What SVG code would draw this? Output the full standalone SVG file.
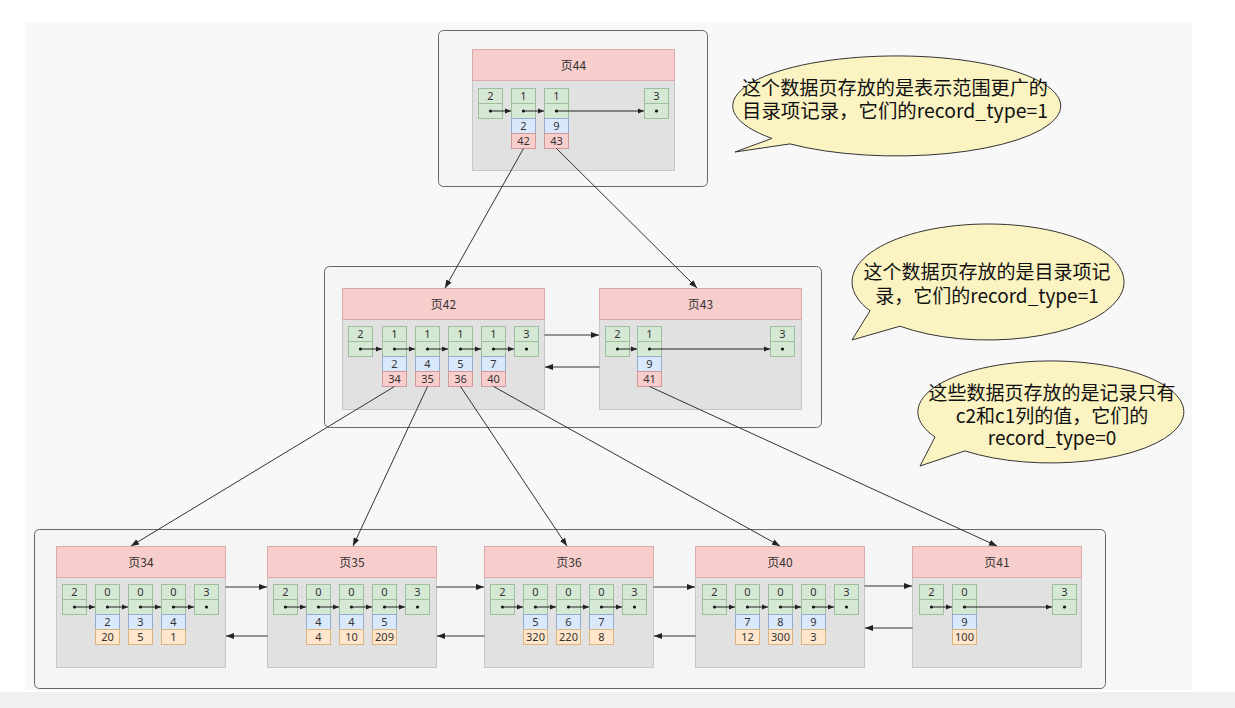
<svg xmlns="http://www.w3.org/2000/svg" width="1235" height="708" viewBox="0 0 1235 708">
<defs>
<style>
.bg{fill:#f8f8f8}
.cont{fill:#f5f5f5;stroke:#666;stroke-width:1}
.hdr{fill:#f8cecc;stroke:#dba9a7;stroke-width:1}
.body{fill:#e1e1e1;stroke:#c6c6c6;stroke-width:1}
.g{fill:#d5e8d4;stroke:#9fbf9c;stroke-width:1}
.b{fill:#dae8fc;stroke:#94acd0;stroke-width:1}
.p{fill:#f8cecc;stroke:#cf9a98;stroke-width:1}
.o{fill:#ffe6cc;stroke:#dbb47e;stroke-width:1}
.t{font-family:"Noto Sans","Noto Sans CJK SC",sans-serif;font-size:11px;fill:#333;text-anchor:middle}
.h{font-family:"Noto Sans CJK SC",sans-serif;font-size:12px;fill:#333;text-anchor:middle}
.dot{fill:#111}
.in{stroke:#222;stroke-width:1;fill:none;marker-end:url(#sa)}
.ln{stroke:#333;stroke-width:1;fill:none;marker-end:url(#la)}
.bub{fill:#fbf3c2;stroke:#333;stroke-width:1}
.bt{font-family:"Noto Sans CJK SC",sans-serif;fill:#111;text-anchor:middle}
</style>
<marker id="sa" markerUnits="userSpaceOnUse" markerWidth="6" markerHeight="6" refX="6" refY="3" orient="auto"><path d="M0,0.5 L6,3 L0,5.5 z" fill="#222"/></marker>
<marker id="la" markerUnits="userSpaceOnUse" markerWidth="8" markerHeight="8" refX="8" refY="4" orient="auto"><path d="M0,1 L8,4 L0,7 z" fill="#222"/></marker>
</defs>
<rect width="1235" height="708" fill="#ffffff"/>
<rect class="bg" x="25" y="22" width="1167" height="668"/>
<rect x="0" y="692" width="1235" height="16" fill="#f0f0f0"/>

<!-- containers -->
<rect class="cont" x="438.5" y="30.5" width="269" height="156" rx="5"/>
<rect class="cont" x="324.5" y="266.5" width="497" height="161" rx="5"/>
<rect class="cont" x="34.5" y="529.5" width="1071" height="159" rx="5"/>

<!-- Page 44 -->
<g id="page44">
<rect class="body" x="472.5" y="80.5" width="202" height="90"/>
<rect class="hdr" x="472.5" y="49.5" width="202" height="31"/>
<text class="h" x="573.5" y="69.5">页44</text>
<rect class="g" x="478.5" y="88.5" width="24" height="15"/><rect class="g" x="478.5" y="103.5" width="24" height="15"/><text class="t" x="490.5" y="99.5">2</text>
<rect class="g" x="511.5" y="88.5" width="24" height="15"/><rect class="g" x="511.5" y="103.5" width="24" height="15"/><text class="t" x="523.5" y="99.5">1</text>
<rect class="b" x="511.5" y="118.5" width="24" height="15"/><text class="t" x="523.5" y="129.5">2</text>
<rect class="p" x="511.5" y="133.5" width="24" height="15"/><text class="t" x="523.5" y="144.5">42</text>
<rect class="g" x="544.5" y="88.5" width="24" height="15"/><rect class="g" x="544.5" y="103.5" width="24" height="15"/><text class="t" x="556.5" y="99.5">1</text>
<rect class="b" x="544.5" y="118.5" width="24" height="15"/><text class="t" x="556.5" y="129.5">9</text>
<rect class="p" x="544.5" y="133.5" width="24" height="15"/><text class="t" x="556.5" y="144.5">43</text>
<rect class="g" x="644.5" y="88.5" width="24" height="15"/><rect class="g" x="644.5" y="103.5" width="24" height="15"/><text class="t" x="656.5" y="99.5">3</text>
<circle class="dot" cx="490.5" cy="111" r="1.6"/><circle class="dot" cx="523.5" cy="111" r="1.6"/><circle class="dot" cx="556.5" cy="111" r="1.6"/><circle class="dot" cx="656.5" cy="111" r="1.6"/>
<path class="in" d="M490.5,111 H511"/><path class="in" d="M523.5,111 H544"/><path class="in" d="M556.5,111 H644"/>
</g>

<!-- Page 42 -->
<g id="page42">
<rect class="body" x="342.5" y="319.5" width="202" height="90"/>
<rect class="hdr" x="342.5" y="288.5" width="202" height="31"/>
<text class="h" x="443.5" y="308.5">页42</text>
<rect class="g" x="348.5" y="326.5" width="24" height="15"/><rect class="g" x="348.5" y="341.5" width="24" height="15"/><text class="t" x="360.5" y="337.5">2</text>
<rect class="g" x="382.5" y="326.5" width="24" height="15"/><rect class="g" x="382.5" y="341.5" width="24" height="15"/><text class="t" x="394.5" y="337.5">1</text>
<rect class="b" x="382.5" y="356.5" width="24" height="15"/><text class="t" x="394.5" y="367.5">2</text>
<rect class="p" x="382.5" y="371.5" width="24" height="15"/><text class="t" x="394.5" y="382.5">34</text>
<rect class="g" x="415.5" y="326.5" width="24" height="15"/><rect class="g" x="415.5" y="341.5" width="24" height="15"/><text class="t" x="427.5" y="337.5">1</text>
<rect class="b" x="415.5" y="356.5" width="24" height="15"/><text class="t" x="427.5" y="367.5">4</text>
<rect class="p" x="415.5" y="371.5" width="24" height="15"/><text class="t" x="427.5" y="382.5">35</text>
<rect class="g" x="448.5" y="326.5" width="24" height="15"/><rect class="g" x="448.5" y="341.5" width="24" height="15"/><text class="t" x="460.5" y="337.5">1</text>
<rect class="b" x="448.5" y="356.5" width="24" height="15"/><text class="t" x="460.5" y="367.5">5</text>
<rect class="p" x="448.5" y="371.5" width="24" height="15"/><text class="t" x="460.5" y="382.5">36</text>
<rect class="g" x="481.5" y="326.5" width="24" height="15"/><rect class="g" x="481.5" y="341.5" width="24" height="15"/><text class="t" x="493.5" y="337.5">1</text>
<rect class="b" x="481.5" y="356.5" width="24" height="15"/><text class="t" x="493.5" y="367.5">7</text>
<rect class="p" x="481.5" y="371.5" width="24" height="15"/><text class="t" x="493.5" y="382.5">40</text>
<rect class="g" x="514.5" y="326.5" width="24" height="15"/><rect class="g" x="514.5" y="341.5" width="24" height="15"/><text class="t" x="526.5" y="337.5">3</text>
<circle class="dot" cx="360.5" cy="349" r="1.6"/><circle class="dot" cx="394.5" cy="349" r="1.6"/><circle class="dot" cx="427.5" cy="349" r="1.6"/><circle class="dot" cx="460.5" cy="349" r="1.6"/><circle class="dot" cx="493.5" cy="349" r="1.6"/><circle class="dot" cx="526.5" cy="349" r="1.6"/>
<path class="in" d="M360.5,349 H382"/><path class="in" d="M394.5,349 H415"/><path class="in" d="M427.5,349 H448"/><path class="in" d="M460.5,349 H481"/><path class="in" d="M493.5,349 H514"/>
</g>

<!-- Page 43 -->
<g id="page43">
<rect class="body" x="599.5" y="319.5" width="202" height="90"/>
<rect class="hdr" x="599.5" y="288.5" width="202" height="31"/>
<text class="h" x="700.5" y="308.5">页43</text>
<rect class="g" x="605.5" y="326.5" width="24" height="15"/><rect class="g" x="605.5" y="341.5" width="24" height="15"/><text class="t" x="617.5" y="337.5">2</text>
<rect class="g" x="637.5" y="326.5" width="24" height="15"/><rect class="g" x="637.5" y="341.5" width="24" height="15"/><text class="t" x="649.5" y="337.5">1</text>
<rect class="b" x="637.5" y="356.5" width="24" height="15"/><text class="t" x="649.5" y="367.5">9</text>
<rect class="p" x="637.5" y="371.5" width="24" height="15"/><text class="t" x="649.5" y="382.5">41</text>
<rect class="g" x="770.5" y="326.5" width="24" height="15"/><rect class="g" x="770.5" y="341.5" width="24" height="15"/><text class="t" x="782.5" y="337.5">3</text>
<circle class="dot" cx="617.5" cy="349" r="1.6"/><circle class="dot" cx="649.5" cy="349" r="1.6"/><circle class="dot" cx="782.5" cy="349" r="1.6"/>
<path class="in" d="M617.5,349 H637"/><path class="in" d="M649.5,349 H770"/>
</g>

<!-- Page 34 -->
<g id="page34">
<rect class="body" x="56.5" y="577.5" width="169" height="90"/>
<rect class="hdr" x="56.5" y="546.5" width="169" height="31"/>
<text class="h" x="141" y="566.5">页34</text>
<rect class="g" x="62.5" y="584.5" width="24" height="15"/><rect class="g" x="62.5" y="599.5" width="24" height="15"/><text class="t" x="74.5" y="595.5">2</text>
<rect class="g" x="95.5" y="584.5" width="24" height="15"/><rect class="g" x="95.5" y="599.5" width="24" height="15"/><text class="t" x="107.5" y="595.5">0</text>
<rect class="b" x="95.5" y="614.5" width="24" height="15"/><text class="t" x="107.5" y="625.5">2</text>
<rect class="o" x="95.5" y="629.5" width="24" height="15"/><text class="t" x="107.5" y="640.5">20</text>
<rect class="g" x="128.5" y="584.5" width="24" height="15"/><rect class="g" x="128.5" y="599.5" width="24" height="15"/><text class="t" x="140.5" y="595.5">0</text>
<rect class="b" x="128.5" y="614.5" width="24" height="15"/><text class="t" x="140.5" y="625.5">3</text>
<rect class="o" x="128.5" y="629.5" width="24" height="15"/><text class="t" x="140.5" y="640.5">5</text>
<rect class="g" x="161.5" y="584.5" width="24" height="15"/><rect class="g" x="161.5" y="599.5" width="24" height="15"/><text class="t" x="173.5" y="595.5">0</text>
<rect class="b" x="161.5" y="614.5" width="24" height="15"/><text class="t" x="173.5" y="625.5">4</text>
<rect class="o" x="161.5" y="629.5" width="24" height="15"/><text class="t" x="173.5" y="640.5">1</text>
<rect class="g" x="194.5" y="584.5" width="24" height="15"/><rect class="g" x="194.5" y="599.5" width="24" height="15"/><text class="t" x="206.5" y="595.5">3</text>
<circle class="dot" cx="74.5" cy="607" r="1.6"/><circle class="dot" cx="107.5" cy="607" r="1.6"/><circle class="dot" cx="140.5" cy="607" r="1.6"/><circle class="dot" cx="173.5" cy="607" r="1.6"/><circle class="dot" cx="206.5" cy="607" r="1.6"/>
<path class="in" d="M74.5,607 H95"/><path class="in" d="M107.5,607 H128"/><path class="in" d="M140.5,607 H161"/><path class="in" d="M173.5,607 H194"/>
</g>

<!-- Page 35 -->
<g id="page35">
<rect class="body" x="267.5" y="577.5" width="169" height="90"/>
<rect class="hdr" x="267.5" y="546.5" width="169" height="31"/>
<text class="h" x="352" y="566.5">页35</text>
<rect class="g" x="273.5" y="584.5" width="24" height="15"/><rect class="g" x="273.5" y="599.5" width="24" height="15"/><text class="t" x="285.5" y="595.5">2</text>
<rect class="g" x="306.5" y="584.5" width="24" height="15"/><rect class="g" x="306.5" y="599.5" width="24" height="15"/><text class="t" x="318.5" y="595.5">0</text>
<rect class="b" x="306.5" y="614.5" width="24" height="15"/><text class="t" x="318.5" y="625.5">4</text>
<rect class="o" x="306.5" y="629.5" width="24" height="15"/><text class="t" x="318.5" y="640.5">4</text>
<rect class="g" x="339.5" y="584.5" width="24" height="15"/><rect class="g" x="339.5" y="599.5" width="24" height="15"/><text class="t" x="351.5" y="595.5">0</text>
<rect class="b" x="339.5" y="614.5" width="24" height="15"/><text class="t" x="351.5" y="625.5">4</text>
<rect class="o" x="339.5" y="629.5" width="24" height="15"/><text class="t" x="351.5" y="640.5">10</text>
<rect class="g" x="372.5" y="584.5" width="24" height="15"/><rect class="g" x="372.5" y="599.5" width="24" height="15"/><text class="t" x="384.5" y="595.5">0</text>
<rect class="b" x="372.5" y="614.5" width="24" height="15"/><text class="t" x="384.5" y="625.5">5</text>
<rect class="o" x="372.5" y="629.5" width="24" height="15"/><text class="t" x="384.5" y="640.5">209</text>
<rect class="g" x="405.5" y="584.5" width="24" height="15"/><rect class="g" x="405.5" y="599.5" width="24" height="15"/><text class="t" x="417.5" y="595.5">3</text>
<circle class="dot" cx="285.5" cy="607" r="1.6"/><circle class="dot" cx="318.5" cy="607" r="1.6"/><circle class="dot" cx="351.5" cy="607" r="1.6"/><circle class="dot" cx="384.5" cy="607" r="1.6"/><circle class="dot" cx="417.5" cy="607" r="1.6"/>
<path class="in" d="M285.5,607 H306"/><path class="in" d="M318.5,607 H339"/><path class="in" d="M351.5,607 H372"/><path class="in" d="M384.5,607 H405"/>
</g>

<!-- Page 36 -->
<g id="page36">
<rect class="body" x="484.5" y="577.5" width="169" height="90"/>
<rect class="hdr" x="484.5" y="546.5" width="169" height="31"/>
<text class="h" x="569" y="566.5">页36</text>
<rect class="g" x="490.5" y="584.5" width="24" height="15"/><rect class="g" x="490.5" y="599.5" width="24" height="15"/><text class="t" x="502.5" y="595.5">2</text>
<rect class="g" x="523.5" y="584.5" width="24" height="15"/><rect class="g" x="523.5" y="599.5" width="24" height="15"/><text class="t" x="535.5" y="595.5">0</text>
<rect class="b" x="523.5" y="614.5" width="24" height="15"/><text class="t" x="535.5" y="625.5">5</text>
<rect class="o" x="523.5" y="629.5" width="24" height="15"/><text class="t" x="535.5" y="640.5">320</text>
<rect class="g" x="556.5" y="584.5" width="24" height="15"/><rect class="g" x="556.5" y="599.5" width="24" height="15"/><text class="t" x="568.5" y="595.5">0</text>
<rect class="b" x="556.5" y="614.5" width="24" height="15"/><text class="t" x="568.5" y="625.5">6</text>
<rect class="o" x="556.5" y="629.5" width="24" height="15"/><text class="t" x="568.5" y="640.5">220</text>
<rect class="g" x="589.5" y="584.5" width="24" height="15"/><rect class="g" x="589.5" y="599.5" width="24" height="15"/><text class="t" x="601.5" y="595.5">0</text>
<rect class="b" x="589.5" y="614.5" width="24" height="15"/><text class="t" x="601.5" y="625.5">7</text>
<rect class="o" x="589.5" y="629.5" width="24" height="15"/><text class="t" x="601.5" y="640.5">8</text>
<rect class="g" x="622.5" y="584.5" width="24" height="15"/><rect class="g" x="622.5" y="599.5" width="24" height="15"/><text class="t" x="634.5" y="595.5">3</text>
<circle class="dot" cx="502.5" cy="607" r="1.6"/><circle class="dot" cx="535.5" cy="607" r="1.6"/><circle class="dot" cx="568.5" cy="607" r="1.6"/><circle class="dot" cx="601.5" cy="607" r="1.6"/><circle class="dot" cx="634.5" cy="607" r="1.6"/>
<path class="in" d="M502.5,607 H523"/><path class="in" d="M535.5,607 H556"/><path class="in" d="M568.5,607 H589"/><path class="in" d="M601.5,607 H622"/>
</g>

<!-- Page 40 -->
<g id="page40">
<rect class="body" x="695.5" y="577.5" width="169" height="90"/>
<rect class="hdr" x="695.5" y="546.5" width="169" height="31"/>
<text class="h" x="780" y="566.5">页40</text>
<rect class="g" x="702.5" y="584.5" width="24" height="15"/><rect class="g" x="702.5" y="599.5" width="24" height="15"/><text class="t" x="714.5" y="595.5">2</text>
<rect class="g" x="735.5" y="584.5" width="24" height="15"/><rect class="g" x="735.5" y="599.5" width="24" height="15"/><text class="t" x="747.5" y="595.5">0</text>
<rect class="b" x="735.5" y="614.5" width="24" height="15"/><text class="t" x="747.5" y="625.5">7</text>
<rect class="o" x="735.5" y="629.5" width="24" height="15"/><text class="t" x="747.5" y="640.5">12</text>
<rect class="g" x="768.5" y="584.5" width="24" height="15"/><rect class="g" x="768.5" y="599.5" width="24" height="15"/><text class="t" x="780.5" y="595.5">0</text>
<rect class="b" x="768.5" y="614.5" width="24" height="15"/><text class="t" x="780.5" y="625.5">8</text>
<rect class="o" x="768.5" y="629.5" width="24" height="15"/><text class="t" x="780.5" y="640.5">300</text>
<rect class="g" x="801.5" y="584.5" width="24" height="15"/><rect class="g" x="801.5" y="599.5" width="24" height="15"/><text class="t" x="813.5" y="595.5">0</text>
<rect class="b" x="801.5" y="614.5" width="24" height="15"/><text class="t" x="813.5" y="625.5">9</text>
<rect class="o" x="801.5" y="629.5" width="24" height="15"/><text class="t" x="813.5" y="640.5">3</text>
<rect class="g" x="834.5" y="584.5" width="24" height="15"/><rect class="g" x="834.5" y="599.5" width="24" height="15"/><text class="t" x="846.5" y="595.5">3</text>
<circle class="dot" cx="714.5" cy="607" r="1.6"/><circle class="dot" cx="747.5" cy="607" r="1.6"/><circle class="dot" cx="780.5" cy="607" r="1.6"/><circle class="dot" cx="813.5" cy="607" r="1.6"/><circle class="dot" cx="846.5" cy="607" r="1.6"/>
<path class="in" d="M714.5,607 H735"/><path class="in" d="M747.5,607 H768"/><path class="in" d="M780.5,607 H801"/><path class="in" d="M813.5,607 H834"/>
</g>

<!-- Page 41 -->
<g id="page41">
<rect class="body" x="912.5" y="577.5" width="169" height="90"/>
<rect class="hdr" x="912.5" y="546.5" width="169" height="31"/>
<text class="h" x="997" y="566.5">页41</text>
<rect class="g" x="919.5" y="584.5" width="24" height="15"/><rect class="g" x="919.5" y="599.5" width="24" height="15"/><text class="t" x="931.5" y="595.5">2</text>
<rect class="g" x="952.5" y="584.5" width="24" height="15"/><rect class="g" x="952.5" y="599.5" width="24" height="15"/><text class="t" x="964.5" y="595.5">0</text>
<rect class="b" x="952.5" y="614.5" width="24" height="15"/><text class="t" x="964.5" y="625.5">9</text>
<rect class="o" x="952.5" y="629.5" width="24" height="15"/><text class="t" x="964.5" y="640.5">100</text>
<rect class="g" x="1052.5" y="584.5" width="24" height="15"/><rect class="g" x="1052.5" y="599.5" width="24" height="15"/><text class="t" x="1064.5" y="595.5">3</text>
<circle class="dot" cx="931.5" cy="607" r="1.6"/><circle class="dot" cx="964.5" cy="607" r="1.6"/><circle class="dot" cx="1064.5" cy="607" r="1.6"/>
<path class="in" d="M931.5,607 H952"/><path class="in" d="M964.5,607 H1052"/>
</g>

<!-- connectors -->
<g id="connectors">
<path class="ln" d="M523.5,148.5 L445,288"/>
<path class="ln" d="M556.5,148.5 L697,288"/>
<path class="ln" d="M544.5,335 H599"/>
<path class="ln" d="M599.5,367 H545"/>
<path class="ln" d="M394.5,386.5 L131,546"/>
<path class="ln" d="M427.5,386.5 L353,546"/>
<path class="ln" d="M460.5,386.5 L567,546"/>
<path class="ln" d="M493.5,386.5 L780,546"/>
<path class="ln" d="M649.5,386.5 L997,546"/>
<path class="ln" d="M225.5,587 H267"/>
<path class="ln" d="M267.5,636 H226"/>
<path class="ln" d="M436.5,587 H484"/>
<path class="ln" d="M484.5,636 H437"/>
<path class="ln" d="M653.5,587 H695"/>
<path class="ln" d="M695.5,636 H654"/>
<path class="ln" d="M864.5,586 H912"/>
<path class="ln" d="M912.5,628 H865"/>
</g>

<!-- callouts -->
<g id="callout1">
<path class="bub" d="M790,143.9 A164 50 0 1 0 772,138.4 L735,152 Z"/>
<text class="bt" x="895" y="95" font-size="19" textLength="306" lengthAdjust="spacingAndGlyphs">这个数据页存放的是表示范围更广的</text>
<text class="bt" x="895" y="118" font-size="19" textLength="306" lengthAdjust="spacingAndGlyphs">目录项记录，它们的record_type=1</text>
</g>
<g id="callout2">
<path class="bub" d="M900,326.2 A136 58 0 1 0 870,310.8 L852,340 Z"/>
<text class="bt" x="987" y="279" font-size="19">这个数据页存放的是目录项记</text>
<text class="bt" x="987" y="303" font-size="19">录，它们的record_type=1</text>
</g>
<g id="callout3">
<path class="bub" d="M965,450.9 A133 51 0 1 0 935,437 L920,466 Z"/>
<text class="bt" x="1052" y="400" font-size="19">这些数据页存放的是记录只有</text>
<text class="bt" x="1052" y="423" font-size="19">c2和c1列的值，它们的</text>
<text class="bt" x="1052" y="445" font-size="19">record_type=0</text>
</g>
</svg>
